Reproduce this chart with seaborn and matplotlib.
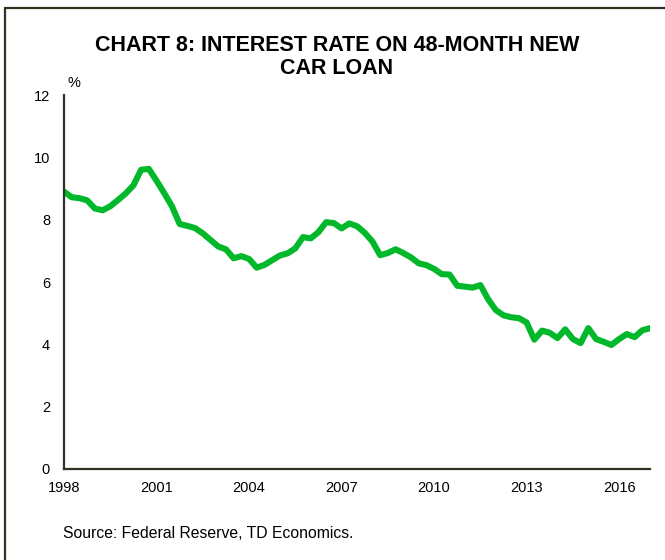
import numpy as np
import pandas as pd
import matplotlib
matplotlib.use("Agg")
import matplotlib.pyplot as plt
from matplotlib.patches import Rectangle
import seaborn as sns

# Quarterly interest rate on 48-month new car loan, 1998Q1 - 2017Q1 (%)
rates = [8.90, 8.72, 8.69, 8.62, 8.36, 8.30, 8.43, 8.63, 8.84, 9.10,
         9.60, 9.63, 9.25, 8.85, 8.43, 7.86, 7.80, 7.73, 7.56, 7.35,
         7.14, 7.05, 6.76, 6.83, 6.74, 6.46, 6.55, 6.70, 6.85, 6.92,
         7.08, 7.44, 7.40, 7.60, 7.92, 7.89, 7.72, 7.88, 7.79, 7.58,
         7.30, 6.86, 6.93, 7.05, 6.93, 6.79, 6.60, 6.54, 6.42, 6.25,
         6.24, 5.88, 5.85, 5.82, 5.90, 5.45, 5.10, 4.93, 4.87, 4.84,
         4.70, 4.15, 4.44, 4.37, 4.20, 4.48, 4.17, 4.04, 4.52, 4.17,
         4.08, 3.98, 4.17, 4.33, 4.23, 4.45, 4.52]
quarters = list(range(len(rates)))
year_labels = ["1998", "2001", "2004", "2007", "2010", "2013", "2016"]
year_positions = [0, 12, 24, 36, 48, 60, 72]
y_ticks = [0, 2, 4, 6, 8, 10, 12]

title = "CHART 8: INTEREST RATE ON 48-MONTH NEW\nCAR LOAN"
source = "Source: Federal Reserve, TD Economics."

df = pd.DataFrame({"quarter": quarters, "rate": rates})

sns.set_style("white")
plt.rcParams["font.family"] = ["Liberation Sans", "DejaVu Sans"]
plt.rcParams["text.color"] = "black"

fig = plt.figure(figsize=(6.65, 5.6), dpi=100)
W, H = 665, 560
ax = fig.add_axes([64 / W, 1 - 469 / H, (650 - 64) / W, (469 - 95) / H])

sns.lineplot(data=df, x="quarter", y="rate", ax=ax, color="#00B82A",
             linewidth=4.4, solid_joinstyle="round", solid_capstyle="round")

ax.set_xlim(0, len(rates) - 1)
ax.set_ylim(0, 12)
ax.set_xticks(year_positions)
ax.set_xticklabels(year_labels)
ax.set_yticks(y_ticks)
ax.set_yticklabels([str(v) for v in y_ticks])
ax.set_xlabel("")
ax.set_ylabel("")
ax.tick_params(axis="both", length=0, labelsize=10.5, colors="black")
ax.tick_params(axis="x", pad=9)
ax.tick_params(axis="y", pad=10)
for s in ["top", "right"]:
    ax.spines[s].set_visible(False)
for s in ["left", "bottom"]:
    ax.spines[s].set_color("#2f3320")
    ax.spines[s].set_linewidth(1.6)
ax.grid(False)

fig.text(68 / W, 1 - 83 / H, "%", fontsize=10.5, ha="left", va="center")
fig.text(337 / W, 1 - 57 / H, title, fontsize=15.5, fontweight="bold",
         ha="center", va="center", linespacing=1.1, color="black")
fig.text(63 / W, 1 - 534 / H, source, fontsize=11.3, ha="left", va="center")

fig.patches.append(Rectangle((5 / W, -0.1), 1.2, 1 - 8 / H + 0.1,
                             transform=fig.transFigure, fill=False,
                             edgecolor="#2f3320", linewidth=1.6))

fig.savefig("out.png", dpi=100)
